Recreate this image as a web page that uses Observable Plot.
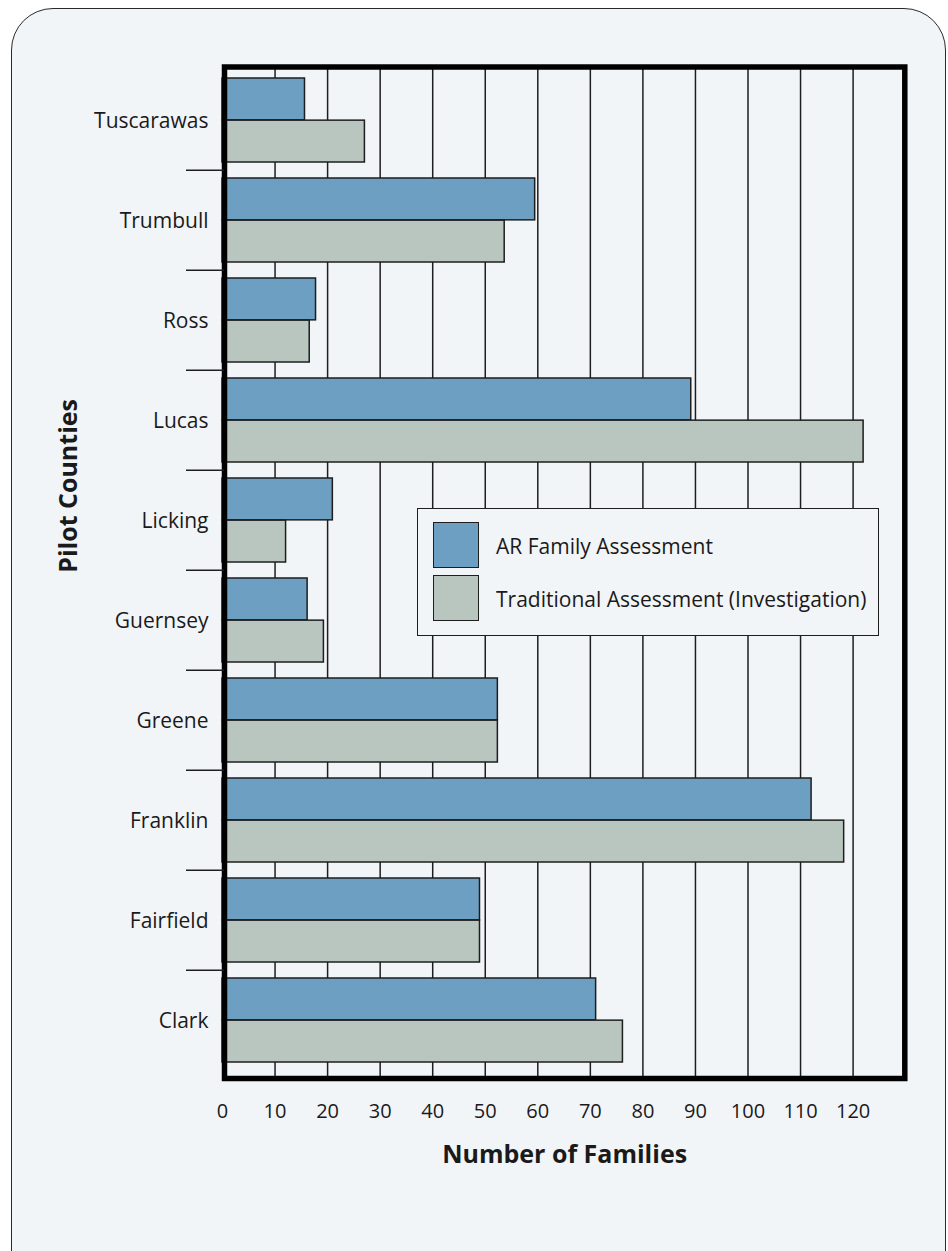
<!DOCTYPE html>
<html>
<head>
<meta charset="utf-8">
<script src="https://cdn.jsdelivr.net/npm/d3@7"></script>
<script src="https://cdn.jsdelivr.net/npm/@observablehq/plot@0.6"></script>
<style>
  html, body { margin: 0; padding: 0; background: #ffffff; width: 948px; height: 1251px; overflow: hidden; }
  body { font-family: "Open Sans", sans-serif; color: #1a1a1a; }
  #card { position: absolute; left: 10.5px; top: 7.5px; width: 935px; height: 1300px; box-sizing: border-box;
          border: 1.5px solid #2a2a2a; border-radius: 42px 42px 0 0; background: #f2f5f8; }
  #chart { position: absolute; left: 0; top: 0; }
  #legend { position: absolute; left: 417px; top: 507.5px; width: 461.5px; height: 128.5px; box-sizing: border-box;
            border: 1.5px solid #1e1e1e; background: #f2f5f8; }
  .item { position: absolute; left: 15px; height: 46px; display: flex; align-items: center; white-space: nowrap; }
  .sw { width: 46px; height: 46px; box-sizing: border-box; border: 1.5px solid #1e1e1e; margin-right: 17px; }
  .lbl { font-size: 21px; line-height: 1; position: relative; top: 1px; }
</style>
</head>
<body>
<div id="card"></div>
<div id="chart"></div>
<div id="legend"></div>
<script>
// ---- data ----
const counties = ["Tuscarawas", "Trumbull", "Ross", "Lucas", "Licking", "Guernsey", "Greene", "Franklin", "Fairfield", "Clark"];
const arFamily = [15.7, 59.5, 17.8, 89.2, 21.0, 16.2, 52.4, 112.1, 49.0, 71.1];
const traditional = [27.1, 53.7, 16.6, 122.0, 12.1, 19.3, 52.4, 118.3, 49.0, 76.2];
const seriesNames = ["AR Family Assessment", "Traditional Assessment (Investigation)"];
const seriesColors = ["#6c9fc2", "#b8c6bf"];
const xTicks = [0, 10, 20, 30, 40, 50, 60, 70, 80, 90, 100, 110, 120];
const xTitle = "Number of Families";
const yTitle = "Pilot Counties";

// ---- layout ----
const W = 948, H = 1251;
const frameL = 224, frameR = 904.3, frameT = 66.5, frameB = 1078;
const yTop = 68.5, yBot = 1071.5;
const step = (yBot - yTop) / counties.length;
const barPad = 8;
const barH = (step - 2 * barPad) / 2;
const ink = "#1e1e1e";
const font = "'Open Sans', sans-serif";

const rows = counties.map((c, i) => ({county: c, ar: arFamily[i], trad: traditional[i]}));

const chart = Plot.plot({
  width: W,
  height: H,
  marginLeft: frameL,
  marginRight: W - frameR,
  marginTop: frameT,
  marginBottom: H - frameB,
  style: {background: "transparent", fontFamily: font, color: "#1a1a1a", overflow: "visible"},
  x: {domain: [0, 130], range: [222, 222 + 130 * 5.255], label: null},
  y: {domain: counties, range: [yTop, yBot], padding: 0, label: null},
  marks: [
    Plot.ruleX(xTicks.filter(d => d > 0), {stroke: ink, strokeWidth: 1.5}),
    Plot.barX(rows, {y: "county", x: "ar", fill: seriesColors[0], stroke: ink, strokeWidth: 1.5,
                     insetTop: barPad, insetBottom: barPad + barH}),
    Plot.barX(rows, {y: "county", x: "trad", fill: seriesColors[1], stroke: ink, strokeWidth: 1.5,
                     insetTop: barPad + barH, insetBottom: barPad}),
    Plot.frame({stroke: "#000", strokeWidth: 5.5}),
    Plot.axisY({ticks: counties.slice(1), tickSize: 38, text: null, dy: -step / 2, stroke: ink, strokeWidth: 1.5, label: null}),
    Plot.axisY({tickSize: 0, tickPadding: 16, fontSize: 21, dy: 1, label: null}),
    Plot.axisX({ticks: xTicks, tickSize: 0, tickPadding: 25, fontSize: 20, label: null}),
    Plot.text([yTitle], {frameAnchor: "left", dx: -156, rotate: -90, fontWeight: "bold", fontSize: 25}),
    Plot.text([xTitle], {frameAnchor: "bottom", dy: 84, fontWeight: "bold", fontSize: 25})
  ]
});
document.getElementById("chart").appendChild(chart);

// ---- legend ----
const legend = document.getElementById("legend");
seriesNames.forEach((name, i) => {
  const item = document.createElement("div");
  item.className = "item";
  item.style.top = (i === 0 ? 13.5 : 66.5) + "px";
  const sw = document.createElement("div");
  sw.className = "sw";
  sw.style.background = seriesColors[i];
  const lbl = document.createElement("span");
  lbl.className = "lbl";
  lbl.textContent = name;
  item.appendChild(sw);
  item.appendChild(lbl);
  legend.appendChild(item);
});
</script>
</body>
</html>
